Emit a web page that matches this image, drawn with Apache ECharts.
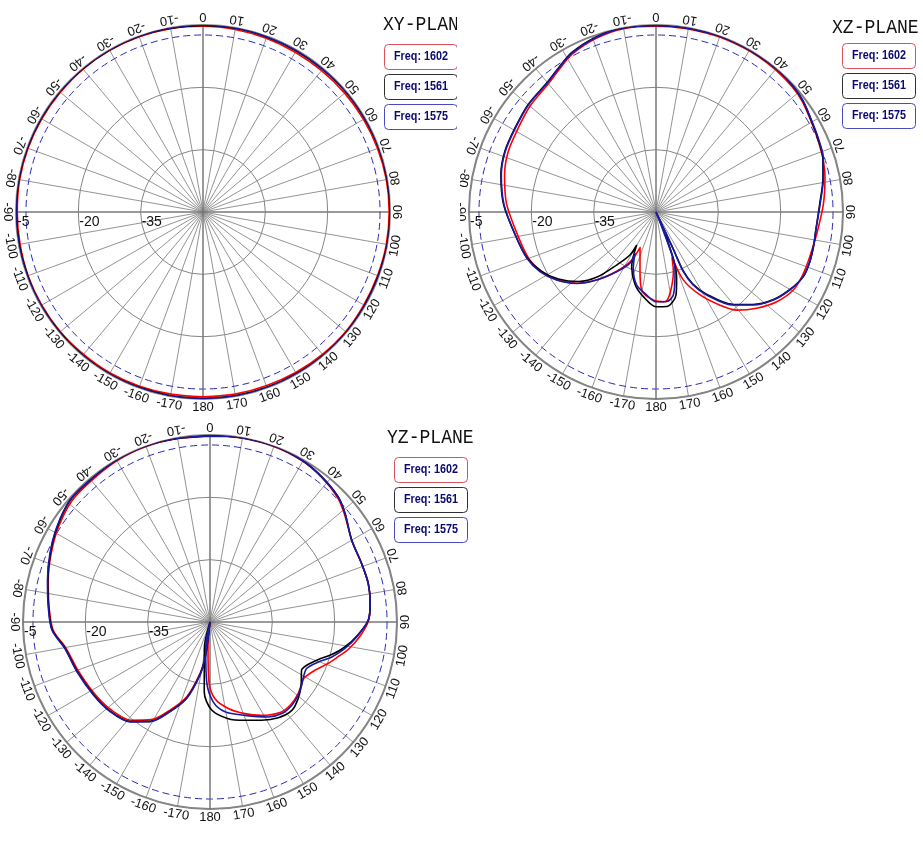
<!DOCTYPE html>
<html>
<head>
<meta charset="utf-8">
<title>Radiation patterns</title>
<style>
  html, body { margin: 0; padding: 0; background: #fff; }
  .panel { position: absolute; overflow: hidden; }
</style>
</head>
<body>
<div id="xy" class="panel" style="left:0;top:0;width:457px;height:416px"></div>
<div id="xz" class="panel" style="left:460px;top:0;width:463px;height:416px"></div>
<div id="yz" class="panel" style="left:0;top:418px;width:480px;height:423px"></div>
<script src="https://cdn.jsdelivr.net/npm/echarts@6/dist/echarts.min.js"></script>
<script>
// tick labels
var angleTicks = [0, 10, 20, 30, 40, 50, 60, 70, 80, 90, 100, 110, 120, 130, 140, 150, 160, 170, 180,
    -170, -160, -150, -140, -130, -120, -110, -100, -90, -80, -70, -60, -50, -40, -30, -20, -10];
var radiusTicks = [-5, -20, -35];
var refLevel = -7.4;   // dashed circle
var freqNames = ['Freq: 1602', 'Freq: 1561', 'Freq: 1575'];

// XY plane
var xyAngles = [-180, -170, -160, -150, -140, -130, -120, -110, -100, -90, -80, -70, -60, -50, -40, -30, -20, -10,
    0, 10, 20, 30, 40, 50, 60, 70, 80, 90, 100, 110, 120, 130, 140, 150, 160, 170, 180];
var xyRed   = [-5.5, -5.5, -5.4, -5.3, -5.3, -5.2, -5.2, -5.2, -5.3, -5.3, -5.2, -5.2, -5.2, -5.2, -5.1, -5.1, -5.1, -5.2,
    -5.3, -5.4, -5.5, -5.6, -5.6, -5.5, -5.4, -5.3, -5.2, -5.2, -5.2, -5.3, -5.3, -5.2, -5.3, -5.4, -5.5, -5.5, -5.5];
var xyBlack = [-5.1, -5.1, -5.1, -5.0, -5.0, -5.0, -5.0, -5.1, -5.1, -5.1, -5.0, -5.0, -5.0, -5.0, -5.0, -5.0, -5.0, -5.1,
    -5.1, -5.1, -5.2, -5.2, -5.2, -5.1, -5.1, -5.0, -5.0, -5.0, -5.0, -5.1, -5.1, -5.0, -5.0, -5.1, -5.1, -5.1, -5.1];
var xyBlue  = [-5.0, -5.0, -5.0, -4.9, -4.9, -4.9, -5.0, -5.0, -5.0, -5.0, -4.9, -4.9, -4.9, -4.9, -4.9, -4.9, -4.9, -5.0,
    -5.0, -5.0, -5.1, -5.1, -5.1, -5.0, -5.0, -4.9, -4.9, -4.9, -4.9, -5.0, -5.0, -4.9, -4.9, -5.0, -5.0, -5.0, -5.0];

// XZ plane
var xzRedAngles = [160.5, 163.8, 174.3, -178.2, -169.6, -164.6, -155.9, -153, -146.6, -139, -132, -124.4, -117, -110,
    -100.7, -87, -76.4, -68, -59, -50, -40, -34, -28, -19, -10, 0, 8.4, 19, 27.6, 33.5, 40, 47.5, 53, 61, 65.5, 72,
    78.5, 87.5, 97, 102, 108, 113.7, 119.6, 126.6, 133.7, 140.5, 145.5, 152, 158.1, 160.5];
var xzRed = [-38.5, -35.0, -28.3, -28.8, -30.9, -35.5, -40.6, -36.8, -33.0, -28.4, -24.4, -21.1, -18.9, -17.4,
    -16.4, -14.0, -12.5, -11.6, -11.2, -10.4, -9.7, -8.5, -7.0, -5.8, -5.2, -5.3, -5.3, -5.2, -5.2, -5.2, -5.3, -5.5,
    -5.9, -6.9, -7.3, -7.8, -8.5, -9.7, -10.9, -11.3, -11.5, -11.6, -12.0, -13.8, -16.5, -19.4, -22.8, -27.4, -32.4, -38.5];
var xzBlackAngles = [157.5, 162.7, 166.5, 173.6, 180, -171.5, -164, -156, -149.7, -148.8, -143.4, -138, -132, -124.4,
    -117.2, -109.7, -100.7, -87.3, -76.4, -68.1, -59.2, -49.9, -40.2, -34, -27.8, -19.2, -10.5, 0, 8.4, 18.9, 27.6,
    33.5, 40, 47.5, 53.1, 61, 65.5, 72.1, 78.5, 87.5, 97.1, 101.8, 107.9, 113.7, 120.2, 126.9, 133.7, 140.3, 148.6,
    153, 155.2, 155, 157.5];
var xzBlack = [-50, -33.3, -29.4, -27.1, -27.2, -29.4, -31.8, -35.6, -40.8, -37.9, -34.1, -29.0, -25.0, -21.5,
    -18.9, -17.1, -15.9, -13.3, -11.6, -10.8, -10.5, -9.8, -9.3, -8.1, -6.6, -5.5, -5.0, -5.1, -5.1, -5.0, -5.0,
    -5.0, -5.0, -5.2, -5.7, -6.8, -7.2, -7.8, -9.0, -10.6, -11.3, -11.2, -11.1, -11.3, -12.8, -14.8, -17.8, -21.1,
    -26.9, -30.6, -34.5, -40.6, -50];
var xzBlueAngles = [157, 159.5, 162.3, 168.2, 173.2, 180, -173.6, -165.2, -158, -153, -153, -146.6, -138.9, -132,
    -124.4, -117.2, -109.7, -100.7, -87.3, -76.4, -68.1, -59.2, -49.9, -40.2, -34, -27.8, -19.2, -10.5, 0, 8.4, 18.9,
    27.6, 33.5, 40, 47.5, 53.1, 61, 65.5, 72.1, 78.5, 87.5, 97.1, 101.8, 107.9, 113.7, 120.2, 126.9, 133.7, 140.3,
    148.6, 153, 155.4, 155, 157];
var xzBlue = [-50, -38.1, -34.9, -29.6, -28.3, -28.4, -29.9, -31.8, -35.4, -38.9, -36.2, -32.8, -28.3, -24.3,
    -21.0, -18.6, -17.0, -15.9, -13.4, -11.7, -10.9, -10.6, -9.9, -9.4, -8.2, -6.7, -5.6, -5.0, -5.1, -5.1, -5.0,
    -5.0, -5.0, -5.0, -5.2, -5.65, -6.7, -7.1, -7.7, -8.9, -10.5, -11.3, -11.2, -11.1, -11.3, -12.7, -14.7, -17.6,
    -20.9, -26.6, -30.3, -34.2, -40.3, -50];

// YZ plane
var yzRedAngles = [0, 8.7, 19.2, 29.5, 37.5, 45.7, 51.2, 59.9, 68.9, 76.3, 83.3, 89.3, 95, 101, 105, 109.4, 114.7,
    121.2, 124.6, 129.7, 135.6, 141.9, 151, 160, 168, 176.3, -179, -175.7, -174, -172.5, -169.3, -163, -156, -149,
    -141.3, -131.9, -122, -110.4, -100.4, -92.9, -84.6, -75.5, -66.8, -58.1, -48.9, -40.2, -29.9, -19.7, -10.3, 0];
var yzRed = [-5.3, -5.1, -5.0, -5.3, -6.0, -7.1, -8.5, -10.6, -10.9, -10.8, -11.2, -11.8, -13.6, -16.0, -18.0,
    -19.9, -22.2, -23.7, -23.3, -22.6, -22.2, -22.4, -24.3, -26.6, -28.7, -31.5, -35.6, -43.6, -50, -41.6, -37.6,
    -31.4, -27.0, -22.6, -19.7, -18.2, -17.3, -16.2, -14.8, -12.2, -11.1, -9.8, -8.4, -7.0, -5.8, -5.6, -5.2, -5.0,
    -5.2, -5.3];
var yzBlackAngles = [0, 8.7, 19.2, 29.5, 37.5, 45.7, 51.2, 59.9, 68.9, 76.3, 83.3, 89.3, 95, 100.5, 105, 109.1,
    114.1, 117.8, 124.8, 131, 137.2, 144.5, 152.3, 160.5, 169.3, 178.9, -175.3, -167.9, -170, -172.2, -169.3, -163,
    -156, -149, -141.3, -131.9, -122, -110.4, -100.4, -92.9, -84.6, -75.5, -66.8, -58.1, -48.9, -40.2, -29.9, -19.7,
    -10.3, 0];
var yzBlack = [-5.2, -5.0, -4.9, -5.2, -5.9, -6.9, -8.3, -10.6, -10.9, -10.8, -11.2, -11.9, -14.3, -17.0, -19.7,
    -22.4, -24.5, -25.1, -23.3, -21.9, -21.0, -21.7, -23.3, -24.9, -26.3, -28.8, -33.1, -43.5, -50, -41.2, -37.2,
    -30.9, -26.5, -22.1, -19.3, -17.8, -17.0, -15.9, -14.6, -12.0, -11.0, -9.7, -8.2, -6.7, -5.4, -5.3, -5.0, -4.9,
    -5.1, -5.2];
var yzBlueAngles = [0, 8.7, 19.2, 29.5, 37.5, 45.7, 51.2, 59.9, 68.9, 76.3, 83.3, 89.3, 95.1, 101.1, 106, 110.3,
    115.7, 120.5, 124.6, 129.7, 135.6, 141.9, 148.5, 159.4, 170.5, 177.6, -176.9, -170.8, -172, -172.2, -169.3, -163,
    -156, -149, -141.3, -131.9, -122, -110.4, -100.4, -92.9, -84.6, -75.5, -66.8, -58.1, -48.9, -40.2, -29.9, -19.7,
    -10.3, 0];
var yzBlue = [-5.2, -5.0, -4.9, -5.2, -5.9, -6.9, -8.3, -10.6, -10.9, -10.8, -11.2, -11.9, -14.2, -16.9, -19.5,
    -22.2, -24.2, -23.9, -23.2, -22.4, -21.9, -22.0, -23.2, -26.0, -28.1, -30.7, -35.5, -43.5, -50, -41.2, -37.0,
    -30.8, -26.4, -22.0, -19.2, -17.7, -16.9, -15.8, -14.5, -11.9, -10.9, -9.6, -8.1, -6.6, -5.3, -5.3, -5.0, -4.9,
    -5.1, -5.2];

var COLORS = ['#ff0000', '#000000', '#1a1aa8'];
var BOX_BORDERS = ['#d8505a', '#303030', '#4a4ac0'];
var LABEL_R = -3.0;

function pairs(values, angles) {
    return values.map(function (v, i) { return [v, angles[i]]; });
}

function curve(idx, values, angles) {
    return {
        type: 'line', name: freqNames[idx], coordinateSystem: 'polar',
        data: pairs(values, angles),
        symbol: 'none', smooth: 0.3, clip: false, z: 3 + idx,
        lineStyle: { color: COLORS[idx], width: 1.6 }
    };
}

function makeOption(p) {
    var graphic = [{
        type: 'text', x: p.titleX, y: p.titleY, scaleX: 0.86,
        style: { text: p.title, font: '21px "Liberation Mono"', fill: '#111', verticalAlign: 'middle' }
    }];
    freqNames.forEach(function (name, i) {
        graphic.push({
            type: 'group', x: p.boxX, y: p.boxY + i * 30,
            children: [
                { type: 'rect', shape: { x: 0.5, y: 0.5, width: 73, height: 25, r: 4 },
                  style: { fill: '#fff', stroke: BOX_BORDERS[i], lineWidth: 1 } },
                { type: 'text', x: 37, y: 13, scaleX: 0.9,
                  style: { text: name, font: 'bold 12px "Liberation Sans"', fill: '#0a0a70',
                           align: 'center', verticalAlign: 'middle' } }
            ]
        });
    });

    return {
        animation: false,
        backgroundColor: '#fff',
        polar: { center: p.center, radius: 187 },
        angleAxis: {
            type: 'value', min: -180, max: 180, interval: 10, startAngle: 270, clockwise: true,
            axisLine: { lineStyle: { color: '#858585', width: 2 } },
            axisTick: { show: false }, axisLabel: { show: false },
            splitLine: { lineStyle: { color: '#949494', width: 1 } }
        },
        radiusAxis: {
            type: 'value', min: -50, max: -5, interval: 15,
            axisLine: { show: false }, axisTick: { show: false }, axisLabel: { show: false },
            splitLine: { lineStyle: { color: '#858585', width: 1 } }
        },
        graphic: graphic,
        series: [
            {   // dashed reference circle and main cross lines
                type: 'custom', coordinateSystem: 'polar', silent: true, z: 1,
                data: [[refLevel, 0]],
                renderItem: function (params, api) {
                    var c = api.coord([-50, 0]);
                    var e = api.coord([api.value(0), 0]);
                    var r = Math.abs(c[1] - e[1]);
                    var kids = [{
                        type: 'circle', shape: { cx: c[0], cy: c[1], r: r },
                        style: { fill: 'none', stroke: '#2a2ab8', lineWidth: 1, lineDash: [7, 4] }
                    }];
                    [0, 90, 180, -90].forEach(function (a) {
                        var q = api.coord([-5, a]);
                        kids.push({ type: 'line', shape: { x1: c[0], y1: c[1], x2: q[0], y2: q[1] },
                                    style: { stroke: '#6a6a6a', lineWidth: 1 } });
                    });
                    return { type: 'group', children: kids };
                }
            },
            curve(0, p.red, p.redAngles),
            curve(1, p.black, p.blackAngles),
            curve(2, p.blue, p.blueAngles),
            {   // rotated angle labels
                type: 'custom', coordinateSystem: 'polar', silent: true, z: 10,
                data: angleTicks.map(function (a) { return [LABEL_R, a]; }),
                renderItem: function (params, api) {
                    var a = api.value(1);
                    var q = api.coord([api.value(0), a]);
                    return {
                        type: 'text', x: q[0], y: q[1], rotation: (180 - a) * Math.PI / 180,
                        style: { text: String(angleTicks[params.dataIndex]), font: '13px "Liberation Sans"',
                                 fill: '#111', align: 'center', verticalAlign: 'middle' }
                    };
                }
            },
            {   // level labels along the left horizontal
                type: 'custom', coordinateSystem: 'polar', silent: true, z: 10,
                data: radiusTicks.map(function (v) { return [v, -90]; }),
                renderItem: function (params, api) {
                    var q = api.coord([api.value(0), api.value(1)]);
                    return {
                        type: 'text', x: q[0] + 1, y: q[1] + 3,
                        style: { text: String(radiusTicks[params.dataIndex]), font: '14px "Liberation Sans"',
                                 fill: '#111', align: 'left', verticalAlign: 'top' }
                    };
                }
            }
        ]
    };
}

var planes = [
    { id: 'xy', title: 'XY-PLANE', center: [203, 212], titleX: 383, titleY: 24, boxX: 384, boxY: 44,
      red: xyRed, redAngles: xyAngles, black: xyBlack, blackAngles: xyAngles, blue: xyBlue, blueAngles: xyAngles },
    { id: 'xz', title: 'XZ-PLANE', center: [196, 212], titleX: 372, titleY: 27, boxX: 382, boxY: 43,
      red: xzRed, redAngles: xzRedAngles, black: xzBlack, blackAngles: xzBlackAngles, blue: xzBlue, blueAngles: xzBlueAngles },
    { id: 'yz', title: 'YZ-PLANE', center: [210, 204], titleX: 387, titleY: 19, boxX: 394, boxY: 39,
      red: yzRed, redAngles: yzRedAngles, black: yzBlack, blackAngles: yzBlackAngles, blue: yzBlue, blueAngles: yzBlueAngles }
];

planes.forEach(function (p) {
    var chart = echarts.init(document.getElementById(p.id));
    chart.setOption(makeOption(p));
});
</script>
</body>
</html>
